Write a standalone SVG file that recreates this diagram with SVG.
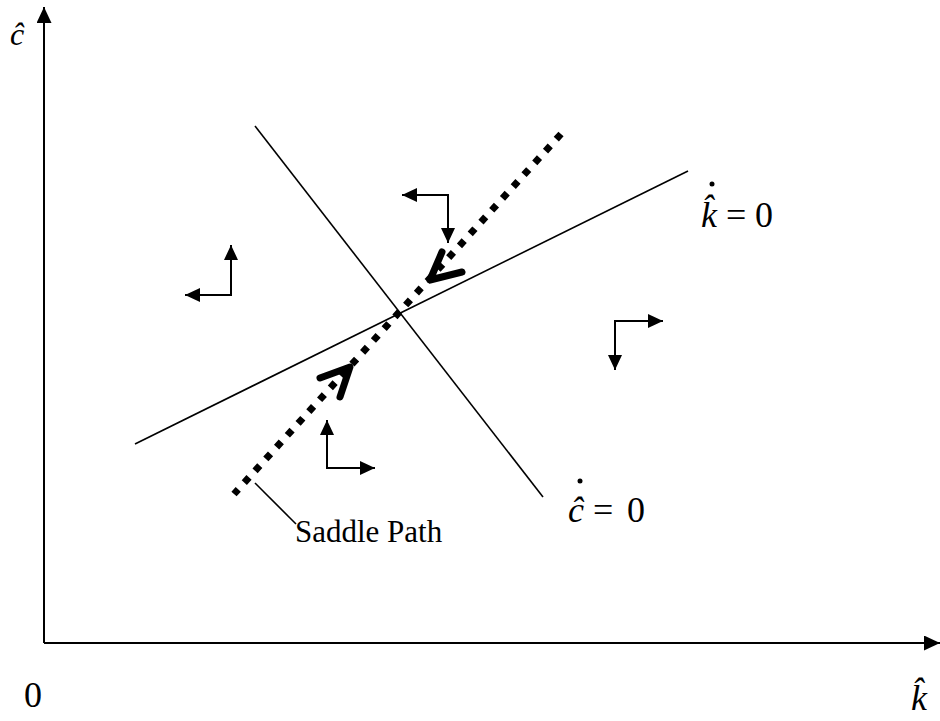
<svg xmlns="http://www.w3.org/2000/svg" width="940" height="721" viewBox="0 0 940 721" font-family="'Liberation Serif', 'Times New Roman', serif">
<style>
.ln{stroke:#000;stroke-width:1.6;fill:none}
.ax{stroke:#000;stroke-width:2;fill:none}
.ph{stroke:#000;stroke-width:2;fill:none;marker-start:url(#ahs);marker-end:url(#ah)}
.chev{stroke:#000;stroke-width:7;fill:none;stroke-linecap:round;stroke-linejoin:round}
.sp{stroke:#000;stroke-width:7;stroke-dasharray:7 9;fill:none}
.dot{fill:#000}
text{font-family:'Liberation Serif','Times New Roman',serif;fill:#000}
.i{font-style:italic}
</style>
<defs>
<marker id="ah" markerUnits="userSpaceOnUse" markerWidth="16" markerHeight="15" refX="15" refY="7" orient="auto"><path d="M0,0 L15,7 L0,14 z" fill="#000"/></marker>
<marker id="ahs" markerUnits="userSpaceOnUse" markerWidth="16" markerHeight="15" refX="15" refY="7" orient="auto-start-reverse"><path d="M0,0 L15,7 L0,14 z" fill="#000"/></marker>
<marker id="axh" markerUnits="userSpaceOnUse" markerWidth="17" markerHeight="16" refX="16" refY="7.5" orient="auto"><path d="M0,0 L16,7.5 L0,15 z" fill="#000"/></marker>
</defs>
<g id="connectors">
<line id="axis-c" class="ax" x1="44" y1="643" x2="44" y2="7" marker-end="url(#axh)"/>
<line id="axis-k" class="ax" x1="44" y1="643" x2="940" y2="643" marker-end="url(#axh)"/>
<line id="kdot-zero" class="ln" x1="135" y1="444" x2="688" y2="171"/>
<line id="cdot-zero" class="ln" x1="255" y1="126" x2="543" y2="497"/>
<line id="saddle-path" class="sp" x1="561" y1="134" x2="234" y2="494"/>
<polyline id="chev-upper" class="chev" points="442,252 430,280 462,272"/>
<polyline id="chev-lower" class="chev" points="320,378 350,367 340,397"/>
<line id="saddle-leader" class="ln" x1="255" y1="483" x2="296" y2="524"/>
<polyline id="phase-top" class="ph" points="402,195 448,195 448,243"/>
<polyline id="phase-left" class="ph" points="185,295 231,295 231,245"/>
<polyline id="phase-right" class="ph" points="663,321 615,321 615,370"/>
<polyline id="phase-bottom" class="ph" points="327,420 327,468 375,468"/>
</g>
<g id="label-c-axis">
<text class="i" x="10" y="45" font-size="32">ĉ</text>
</g>
<g id="label-k-axis">
<text class="i" x="911" y="710" font-size="36">k̂</text>
</g>
<g id="label-origin">
<text x="24" y="707" font-size="36">0</text>
</g>
<g id="label-kdot">
<text class="i" x="701" y="227" font-size="36">k̂</text>
<circle class="dot" cx="712" cy="184" r="2.5"/>
<text x="726" y="227" font-size="36">=</text>
<text x="755" y="227" font-size="36">0</text>
</g>
<g id="label-cdot">
<text class="i" x="568" y="522" font-size="36">ĉ</text>
<circle class="dot" cx="580" cy="481" r="2.5"/>
<text x="593" y="522" font-size="36">=</text>
<text x="627" y="522" font-size="36">0</text>
</g>
<g id="label-saddle">
<text x="295" y="542" font-size="31">Saddle Path</text>
</g>
</svg>
